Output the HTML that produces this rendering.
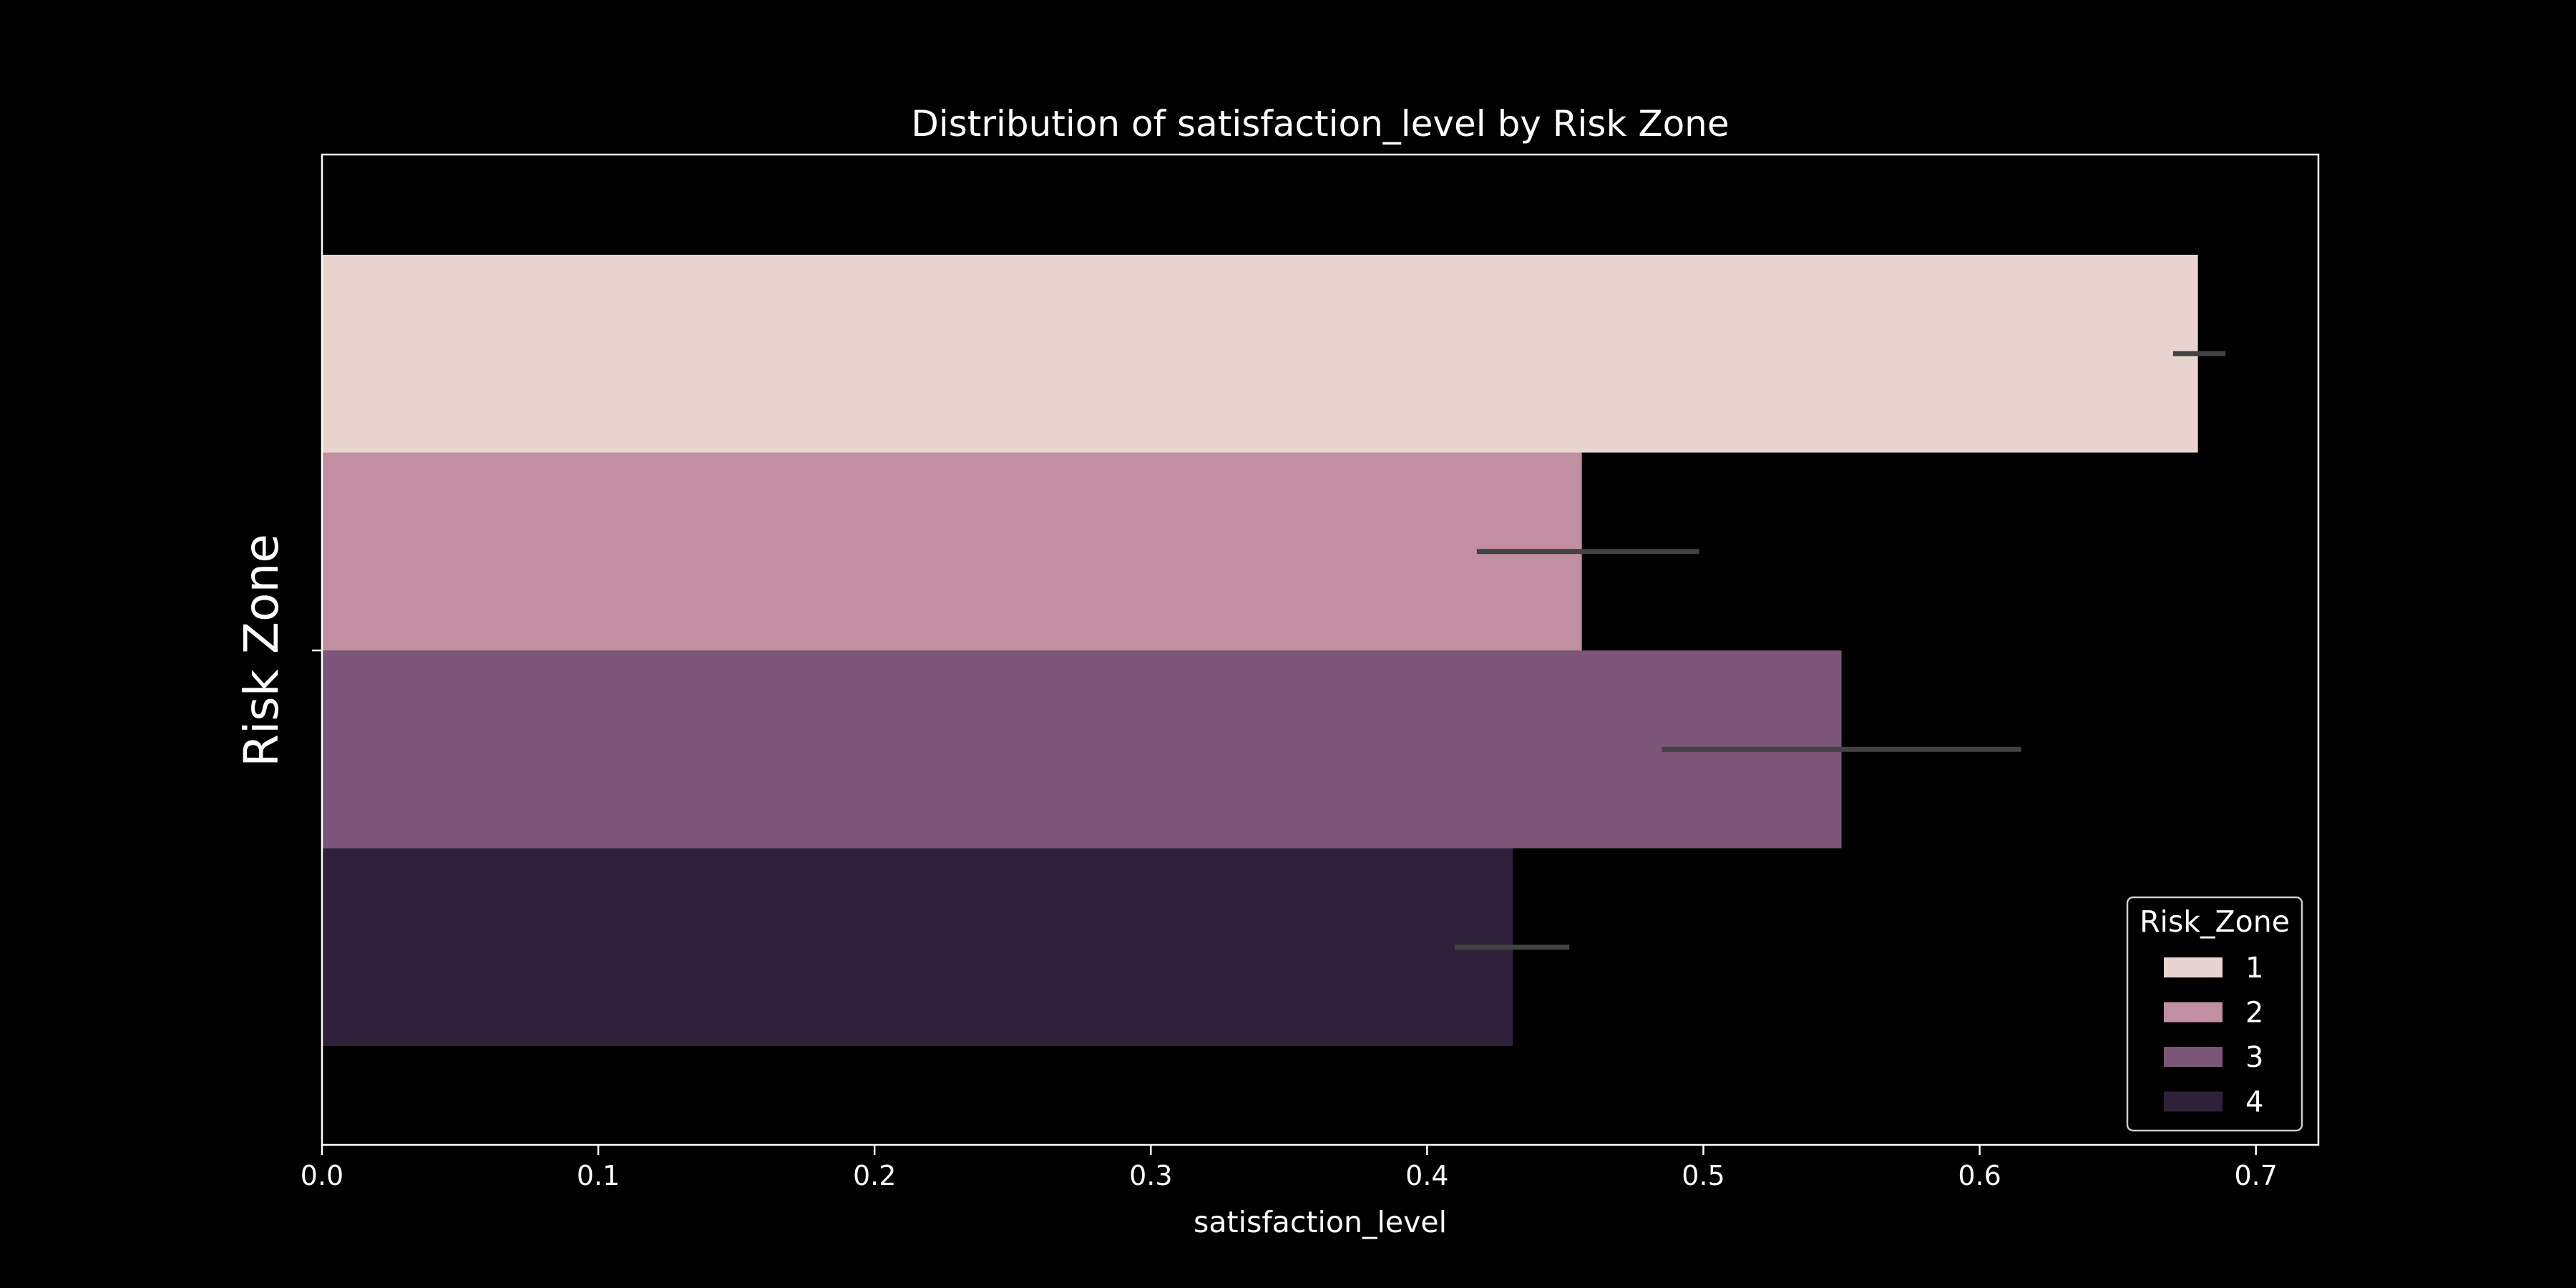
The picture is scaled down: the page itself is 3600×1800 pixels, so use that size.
<!DOCTYPE html>
<html><head><meta charset="utf-8"><style>
html,body{margin:0;padding:0;background:#000;}
svg{display:block;font-family:"DejaVu Sans","Liberation Sans",sans-serif;}
</style></head><body>
<svg id="chart" width="3600" height="1800" viewBox="0 0 3600 1800" xmlns="http://www.w3.org/2000/svg">
<rect width="3600" height="1800" fill="#000"/>
<text x="1845" y="190" fill="#fff" font-size="50" text-anchor="middle">Distribution of satisfaction_level by Risk Zone</text>
<g id="bars"></g>
<g id="errs"></g>
<g id="xticks"></g>
<rect x="450" y="216" width="2790" height="1384" fill="none" stroke="#fff" stroke-width="2.5"/>
<line x1="436" y1="909" x2="450" y2="909" stroke="#fff" stroke-width="2.5"/>
<text x="0" y="0" transform="translate(388,909) rotate(-90)" fill="#fff" font-size="66" text-anchor="middle">Risk Zone</text>
<text x="1845" y="1722" fill="#fff" font-size="41" text-anchor="middle">satisfaction_level</text>
<g id="legend">
<rect x="2973" y="1254" width="244" height="326" rx="8" fill="#000" stroke="#ccc" stroke-width="2.5"/>
<text x="3095" y="1302" fill="#fff" font-size="41" text-anchor="middle">Risk_Zone</text>
</g>
</svg>
<script>
const categories = ['1','2','3','4'];
const values = [0.679, 0.456, 0.550, 0.431];
const errLow = [0.670, 0.418, 0.485, 0.410];
const errHigh = [0.689, 0.4985, 0.615, 0.4515];
const colors = ['#e9d5d0','#c28fa2','#7c5578','#2e2139'];
const xTicks = [0,0.1,0.2,0.3,0.4,0.5,0.6,0.7];
const xTickLabels = ['0.0','0.1','0.2','0.3','0.4','0.5','0.6','0.7'];

const NS='http://www.w3.org/2000/svg';
const X0=450, PX=3861;
const x = v => X0 + v*PX;
const Y0=356, BH=276.5;
const y = i => Y0 + i*BH;
function mk(tag, attrs, parent){const e=document.createElementNS(NS,tag);for(const k in attrs)e.setAttribute(k,attrs[k]);parent.appendChild(e);return e;}
const bars=document.getElementById('bars'), errs=document.getElementById('errs'), xt=document.getElementById('xticks'), lg=document.getElementById('legend');
categories.forEach((c,i)=>{
  const r=mk('rect',{x:x(0),y:y(i),width:x(values[i])-x(0),height:BH,fill:colors[i]},bars);
  
  
  const l=mk('line',{x1:x(errLow[i]),x2:x(errHigh[i]),y1:y(i)+BH/2,y2:y(i)+BH/2,stroke:'#424242','stroke-width':7},errs);
  
  
  const ly=1352+i*62.5;
  const p=mk('rect',{x:3024,y:ly-14,width:82,height:28,fill:colors[i]},lg);
  
  
  const t=mk('text',{x:3138,y:ly+14,fill:'#fff','font-size':40},lg);
  t.textContent=c;
  
  
});
xTicks.forEach((v,i)=>{
  const l=mk('line',{x1:x(v),x2:x(v),y1:1600,y2:1614,stroke:'#fff','stroke-width':2.5},xt);
  
  
  const t=mk('text',{x:x(v),y:1656,fill:'#fff','font-size':38,'text-anchor':'middle'},xt);
  t.textContent=xTickLabels[i];
  
  
});
</script>
</body></html>
